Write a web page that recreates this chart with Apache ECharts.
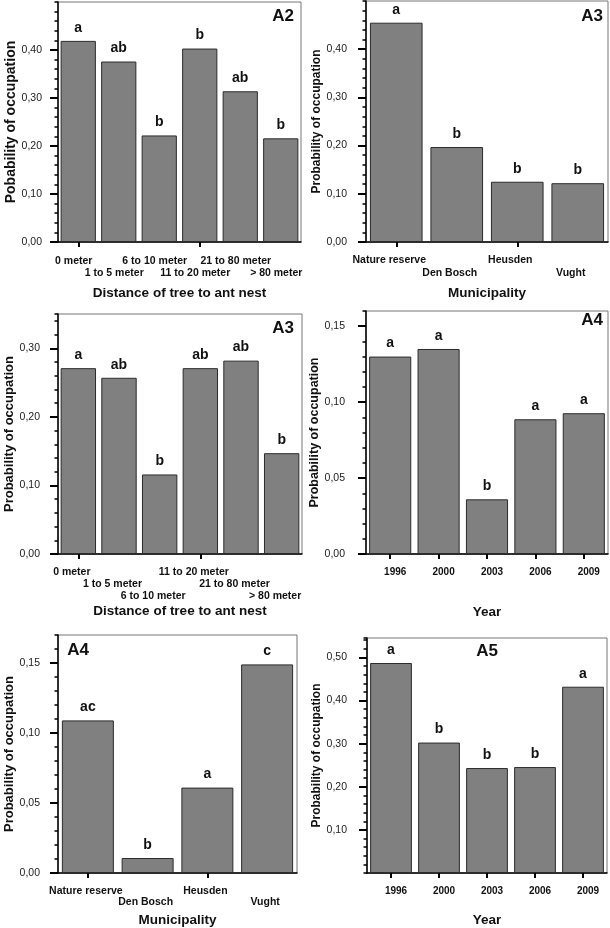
<!DOCTYPE html>
<html><head><meta charset="utf-8">
<script src="https://cdn.jsdelivr.net/npm/echarts@6/dist/echarts.min.js"></script>
<style>html,body{margin:0;padding:0;background:#fff}#c{width:610px;height:928px}</style>
</head><body><div id="c"></div>
<script>
// ---------- data ----------
const distCats = ['0 meter', '1 to 5 meter', '6 to 10 meter', '11 to 20 meter', '21 to 80 meter', '> 80 meter'];
const muniCats = ['Nature reserve', 'Den Bosch', 'Heusden', 'Vught'];
const yearCats = ['1996', '2000', '2003', '2006', '2009'];

const a2DistValues = [0.419, 0.376, 0.222, 0.403, 0.314, 0.216];
const a2DistLetters = ['a', 'ab', 'b', 'b', 'ab', 'b'];
const a3MuniValues = [0.455, 0.197, 0.125, 0.122];
const a3MuniLetters = ['a', 'b', 'b', 'b'];
const a3DistValues = [0.271, 0.257, 0.116, 0.271, 0.282, 0.147];
const a3DistLetters = ['a', 'ab', 'b', 'ab', 'ab', 'b'];
const a4YearValues = [0.130, 0.135, 0.036, 0.0887, 0.0927];
const a4YearLetters = ['a', 'a', 'b', 'a', 'a'];
const a4MuniValues = [0.109, 0.0107, 0.061, 0.149];
const a4MuniLetters = ['ac', 'b', 'a', 'c'];
const a5YearValues = [0.487, 0.3025, 0.2434, 0.2457, 0.432];
const a5YearLetters = ['a', 'b', 'b', 'b', 'a'];

const ticksA2Dist = [0, 0.1, 0.2, 0.3, 0.4];
const ticksA3Muni = [0, 0.1, 0.2, 0.3, 0.4];
const ticksA3Dist = [0, 0.1, 0.2, 0.3];
const ticksA4Year = [0, 0.05, 0.1, 0.15];
const ticksA4Muni = [0, 0.05, 0.1, 0.15];
const ticksA5Year = [0.1, 0.2, 0.3, 0.4, 0.5];

// ---------- layout ----------
const FONT = '"Liberation Sans", Arial, Helvetica, sans-serif';
const panels = [
  { title: 'A2', tx: 283, ty: 16, cats: distCats, vals: a2DistValues, letters: a2DistLetters, ticks: ticksA2Dist,
    max: 0.5, minor: 0.02, grid: { left: 58, top: 2, width: 243, height: 240 },
    yName: 'Pobability of occupation', yNameSize: 14, yNameGap: 38, yLabMargin: 16,
    xName: 'Distance of tree to ant nest', xNameGap: 44, rows: [0, 1, 0, 1, 0, 1], lm: 13, lh: 12, shift: -4.5 },
  { title: 'A3', tx: 592, ty: 16, cats: muniCats, vals: a3MuniValues, letters: a3MuniLetters, ticks: ticksA3Muni,
    max: 0.5, minor: 0.02, grid: { left: 366, top: 1, width: 242, height: 241 },
    yName: 'Probability of occupation', yNameSize: 12, yNameGap: 40, yLabMargin: 19,
    xName: 'Municipality', xNameGap: 44, rows: [0, 1, 0, 1], lm: 12, lh: 13, shift: -7 },
  { title: 'A3', tx: 283, ty: 328, cats: distCats, vals: a3DistValues, letters: a3DistLetters, ticks: ticksA3Dist,
    max: 0.35, minor: 0.02, grid: { left: 58, top: 314, width: 244, height: 240 },
    yName: 'Probability of occupation', yNameSize: 13, yNameGap: 41, yLabMargin: 18,
    xName: 'Distance of tree to ant nest', xNameGap: 50, rows: [0, 1, 2, 0, 1, 2], lm: 12, lh: 12, shift: -6.5 },
  { title: 'A4', tx: 592, ty: 320, cats: yearCats, vals: a4YearValues, letters: a4YearLetters, ticks: ticksA4Year,
    max: 0.16, minor: 0.01, grid: { left: 366, top: 311, width: 242, height: 243 },
    yName: 'Probability of occupation', yNameSize: 12.5, yNameGap: 38, yLabMargin: 21,
    xName: 'Year', xNameGap: 51, rows: [0, 0, 0, 0, 0], lm: 12, lh: 12, shift: 5 },
  { title: 'A4', tx: 78, ty: 650, cats: muniCats, vals: a4MuniValues, letters: a4MuniLetters, ticks: ticksA4Muni,
    max: 0.17, minor: 0.01, grid: { left: 58, top: 635, width: 239, height: 238 },
    yName: 'Probability of occupation', yNameSize: 13, yNameGap: 40, yLabMargin: 18,
    xName: 'Municipality', xNameGap: 40, rows: [0, 1, 0, 1], lm: 12, lh: 11.5, shift: -2 },
  { title: 'A5', tx: 487, ty: 651, cats: yearCats, vals: a5YearValues, letters: a5YearLetters, ticks: ticksA5Year,
    max: 0.545, minor: 0.02, grid: { left: 367, top: 638, width: 240, height: 235 },
    yName: 'Probability of occupation', yNameSize: 12, yNameGap: 40, yLabMargin: 20,
    xName: 'Year', xNameGap: 40, rows: [0, 0, 0, 0, 0], lm: 12, lh: 12, shift: 5 }
];

const fmt = v => v.toFixed(2).replace('.', ',');
const grids = [], xAxes = [], yAxes = [], series = [], graphics = [];

panels.forEach((p, k) => {
  grids.push(Object.assign({ show: true, borderColor: '#777', borderWidth: 1, containLabel: false }, p.grid));
  const pad = p.shift < 0 ? [0, -2 * p.shift, 0, 0] : [0, 0, 0, 2 * p.shift];
  // labelled category axis with the black base line
  xAxes.push({
    type: 'category', gridIndex: k, data: p.cats, position: 'bottom',
    axisLine: { show: true, lineStyle: { color: '#000', width: 1.5 } },
    axisTick: { show: false },
    axisLabel: {
      show: true, margin: p.lm, color: '#111', fontFamily: FONT, fontWeight: 'bold',
      fontSize: p.cats === yearCats ? 10 : 10.5, lineHeight: p.lh, padding: pad, interval: 0,
      formatter: (v, i) => '\n'.repeat(p.rows[i]) + v
    },
    name: p.xName, nameLocation: 'middle', nameGap: p.xNameGap,
    nameTextStyle: { fontFamily: FONT, fontWeight: 'bold', fontSize: 13.5, color: '#111' }
  });
  // tick-only axis, detached from the base line
  xAxes.push({
    type: 'category', gridIndex: k, data: p.cats, position: 'bottom', offset: 4,
    axisLine: { show: false },
    axisTick: { show: true, alignWithLabel: true, length: 5, lineStyle: { color: '#000', width: 2 } },
    axisLabel: { show: false }
  });
  // main value axis: labels + long ticks
  yAxes.push({
    type: 'value', gridIndex: k, min: 0, max: p.max, position: 'left',
    splitLine: { show: false },
    axisLine: { show: true, lineStyle: { color: '#000', width: 1.5 } },
    axisTick: { show: true, length: 8, lineStyle: { color: '#000', width: 2 }, customValues: p.ticks },
    axisLabel: { show: true, margin: p.yLabMargin, color: '#222', fontFamily: FONT, fontSize: 10.5,
      customValues: p.ticks, formatter: fmt },
    name: p.yName, nameLocation: 'middle', nameGap: p.yNameGap, nameRotate: 90,
    nameTextStyle: { fontFamily: FONT, fontWeight: 'bold', fontSize: p.yNameSize, color: '#111' }
  });
  // minor tick axis
  yAxes.push({
    type: 'value', gridIndex: k, min: 0, max: p.max, interval: p.minor, position: 'left',
    splitLine: { show: false }, axisLine: { show: false },
    axisTick: { show: true, length: 3.5, lineStyle: { color: '#000', width: 1.5 } },
    axisLabel: { show: false }
  });
  series.push({
    type: 'bar', xAxisIndex: 2 * k, yAxisIndex: 2 * k, data: p.vals,
    barCategoryGap: '13%',
    itemStyle: { color: '#808080', borderColor: '#2b2b2b', borderWidth: 1 },
    label: { show: true, position: 'top', distance: 6, fontFamily: FONT, fontWeight: 'bold',
      fontSize: 14, color: '#111', formatter: q => p.letters[q.dataIndex] },
    silent: true, animation: false
  });
  graphics.push({
    type: 'text', x: p.tx, y: p.ty,
    style: { text: p.title, font: 'bold 17px ' + FONT, fill: '#111', align: 'center', verticalAlign: 'middle' }
  });
});

const chart = echarts.init(document.getElementById('c'), null, { renderer: 'canvas' });
chart.setOption({
  backgroundColor: '#fff', animation: false,
  grid: grids, xAxis: xAxes, yAxis: yAxes, series: series, graphic: graphics
});
</script></body></html>
